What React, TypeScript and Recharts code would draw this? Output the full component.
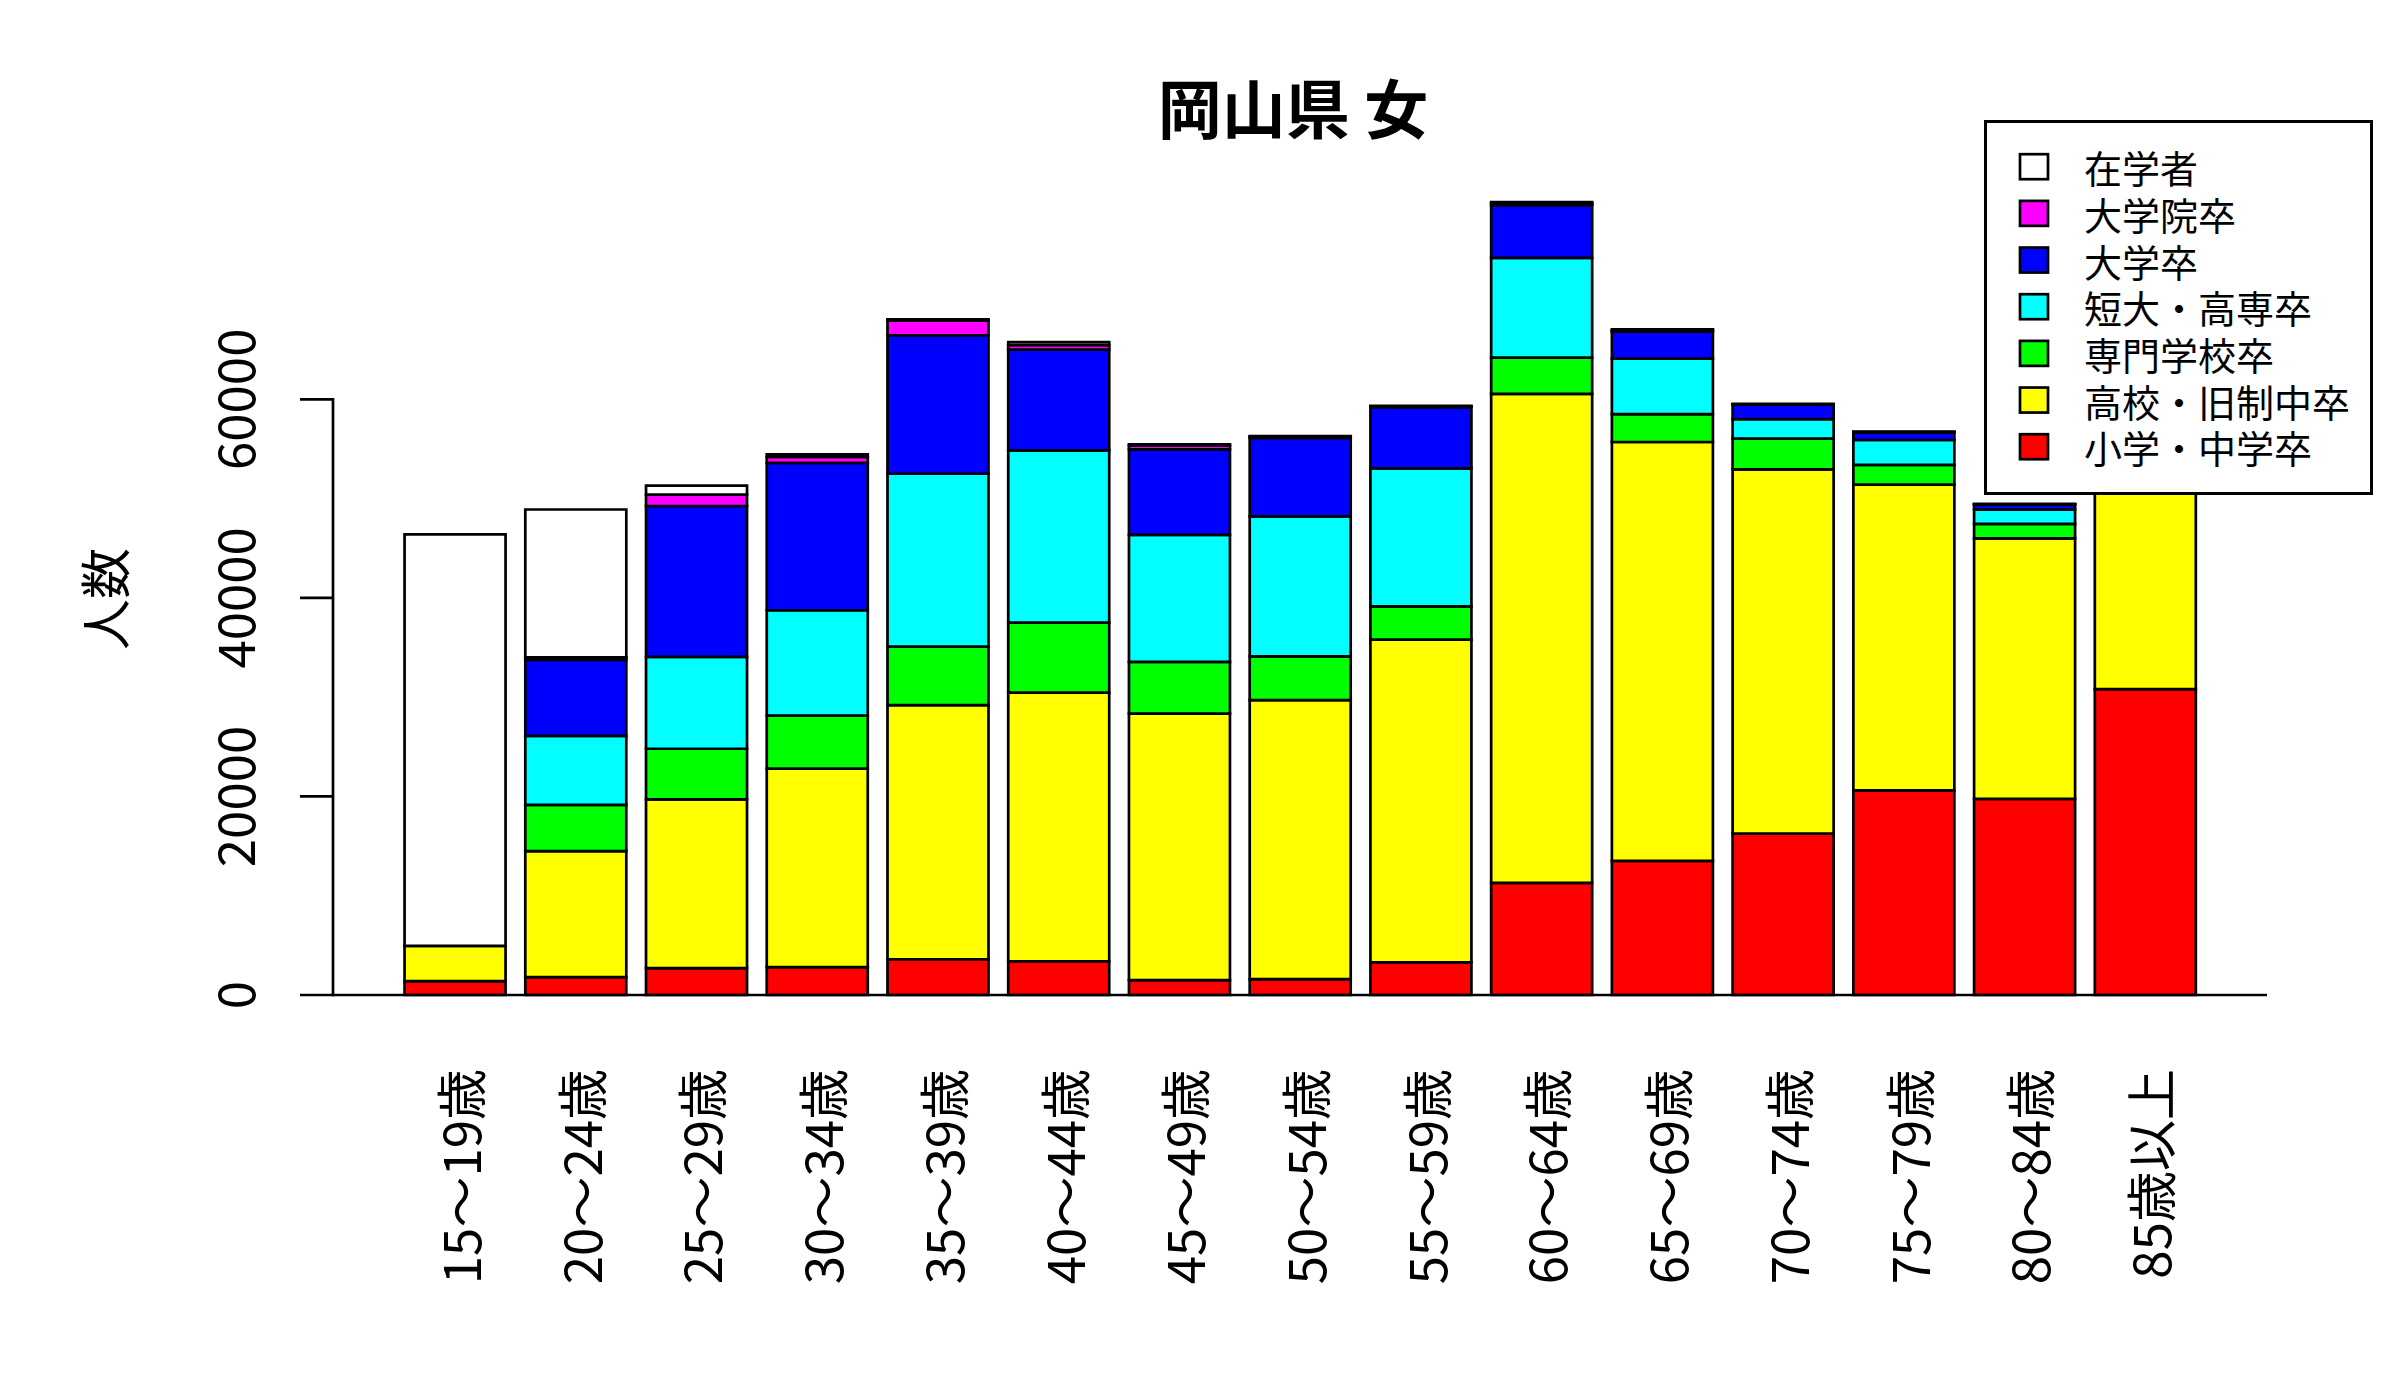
import React from 'react';
import { BarChart, Bar, XAxis, YAxis, ReferenceLine, Legend } from 'recharts';

// ---- data ----
const ageGroups = [
  '15～19歳', '20～24歳', '25～29歳', '30～34歳', '35～39歳', '40～44歳', '45～49歳',
  '50～54歳', '55～59歳', '60～64歳', '65～69歳', '70～74歳', '75～79歳', '80～84歳', '85歳以上',
];
const elementaryJunior = [1400, 1800, 2700, 2800, 3600, 3400, 1500, 1600, 3300, 11300, 13500, 16250, 20600, 19750, 30800];
const highSchool = [3550, 12700, 17000, 20000, 25600, 27050, 26850, 28100, 32500, 49250, 42200, 36700, 30800, 26250, 21500];
const vocational = [0, 4650, 5100, 5350, 5900, 7050, 5200, 4400, 3350, 3650, 2800, 3100, 2000, 1450, 700];
const juniorCollege = [0, 6950, 9250, 10600, 17400, 17350, 12800, 14100, 13900, 10050, 5600, 1950, 2500, 1450, 600];
const university = [0, 7650, 15200, 14850, 13950, 10150, 8600, 7900, 6150, 5300, 2750, 1450, 750, 500, 300];
const graduate = [0, 250, 1150, 600, 1500, 450, 400, 150, 100, 200, 100, 50, 50, 30, 10];
const students = [41450, 14900, 900, 250, 100, 300, 100, 50, 50, 100, 100, 50, 50, 50, 30];

const yTicks = [0, 20000, 40000, 60000];
const yMax = 84000;

const title = '岡山県 女';
const yLabel = '人数';

// stacking order: bottom first
const series = [
  { key: 'elementaryJunior', name: '小学・中学卒', color: '#FF0000', values: elementaryJunior },
  { key: 'highSchool', name: '高校・旧制中卒', color: '#FFFF00', values: highSchool },
  { key: 'vocational', name: '専門学校卒', color: '#00FF00', values: vocational },
  { key: 'juniorCollege', name: '短大・高専卒', color: '#00FFFF', values: juniorCollege },
  { key: 'university', name: '大学卒', color: '#0000FF', values: university },
  { key: 'graduate', name: '大学院卒', color: '#FF00FF', values: graduate },
  { key: 'students', name: '在学者', color: '#FFFFFF', values: students },
];

const data = ageGroups.map((age, i) => {
  const row: Record<string, string | number> = { age };
  series.forEach((s) => {
    row[s.key] = s.values[i];
  });
  return row;
});

const FONT = '"Noto Sans CJK JP", "Noto Sans", sans-serif';
const LW = 2.7;

const XTick = (props: any) => {
  const { x, y, payload } = props;
  return (
    <text
      transform={`translate(${x + 4},${y + 74}) rotate(-90)`}
      textAnchor="end"
      dominantBaseline="central"
      fontSize={51}
      fontFamily={FONT}
      fill="#000"
    >
      {payload.value}
    </text>
  );
};

const YTick = (props: any) => {
  const { x, y, payload } = props;
  return (
    <text
      transform={`translate(${x - 67.5},${y}) rotate(-90)`}
      textAnchor="middle"
      dominantBaseline="central"
      fontSize={51}
      fontFamily={FONT}
      fill="#000"
    >
      {payload.value}
    </text>
  );
};

const YLabel = () => (
  <text
    transform={`translate(94.5,591) rotate(-90)`}
    textAnchor="middle"
    dominantBaseline="central"
    fontSize={51}
    fontFamily={FONT}
    fill="#000"
  >
    {yLabel}
  </text>
);

const legendRows = [...series].reverse();

const renderLegend = () => (
  <svg width={389} height={375} style={{ display: 'block' }}>
    <rect x={1.5} y={1.5} width={386} height={372} fill="#fff" stroke="#000" strokeWidth={3} />
    {legendRows.map((s, i) => {
      const cy = 46.7 + i * 46.67;
      return (
        <g key={s.key}>
          <rect x={36} y={cy - 12.5} width={28} height={25} fill={s.color} stroke="#000" strokeWidth={LW} />
          <text x={100} y={cy} dominantBaseline="central" fontSize={38} fontFamily={FONT} fill="#000">
            {s.name}
          </text>
        </g>
      );
    })}
  </svg>
);

export default function App() {
  return (
    <div style={{ position: 'relative', width: 2384, height: 1384, fontFamily: FONT }}>
      <BarChart
        width={2384}
        height={1384}
        data={data}
        margin={{ top: 153, right: 125, bottom: 97, left: 0 }}
        barCategoryGap="8.333%"
      >
        <XAxis
          dataKey="age"
          type="category"
          height={300}
          padding={{ left: 61.5, right: 61.5 }}
          axisLine={{ stroke: '#000', strokeWidth: LW }}
          tickLine={false}
          tickSize={0}
          tickMargin={0}
          interval={0}
          tick={<XTick />}
        />
        <XAxis xAxisId="num" type="number" domain={[0, 1]} hide />
        <YAxis
          type="number"
          domain={[0, yMax]}
          ticks={yTicks}
          width={325}
          axisLine={false}
          tickLine={{ stroke: '#000', strokeWidth: LW }}
          tickSize={33}
          tickMargin={0}
          tick={<YTick />}
          label={<YLabel />}
        />
        <ReferenceLine
          xAxisId="num"
          segment={[
            { x: 0, y: yTicks[0] },
            { x: 0, y: yTicks[yTicks.length - 1] },
          ]}
          stroke="#000"
          strokeWidth={LW}
          strokeLinecap="square"
        />
        {series.map((s) => (
          <Bar
            key={s.key}
            dataKey={s.key}
            name={s.name}
            stackId="a"
            fill={s.color}
            stroke="#000"
            strokeWidth={LW}
            isAnimationActive={false}
          />
        ))}
        <Legend
          layout="vertical"
          align="center"
          verticalAlign="middle"
          content={renderLegend}
          wrapperStyle={{ left: 1976, top: 112, width: 389, height: 375 }}
        />
      </BarChart>
      <svg
        width={2384}
        height={1384}
        style={{ position: 'absolute', left: 0, top: 0, pointerEvents: 'none' }}
      >
        <text
          x={1285}
          y={97}
          textAnchor="middle"
          dominantBaseline="central"
          fontSize={64}
          fontWeight="bold"
          fontFamily={FONT}
          fill="#000"
        >
          {title}
        </text>
      </svg>
    </div>
  );
}
